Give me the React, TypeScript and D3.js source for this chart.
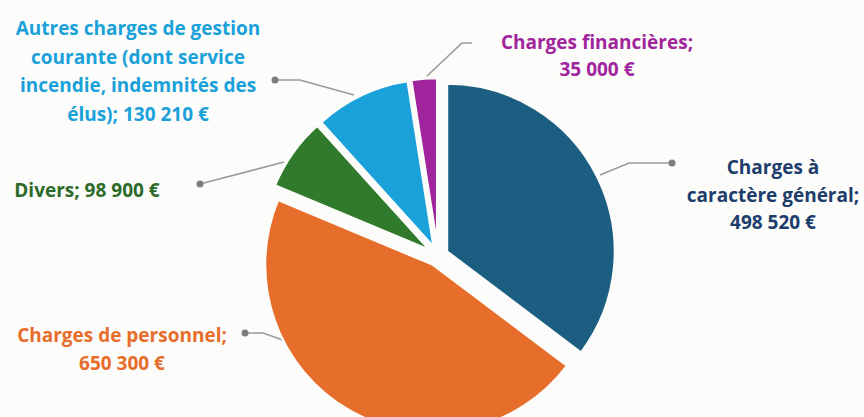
import React from "react";
import * as d3 from "d3";

const categories = [
  "Charges à caractère général",
  "Charges de personnel",
  "Divers",
  "Autres charges de gestion courante",
  "Charges financières",
];
const values = [498520, 650300, 98900, 130210, 35000];
const sliceColors = ["#1b5e81", "#e76d2b", "#2f7a2b", "#1aa1da", "#a0259c"];
const textColors = ["#1d3d6c", "#e76d2b", "#2d6a29", "#1aa1da", "#a0259c"];
const labelLines = [
  ["Charges à", "caractère général;", "498 520 €"],
  ["Charges de personnel;", "650 300 €"],
  ["Divers; 98 900 €"],
  ["Autres charges de gestion", "courante (dont service", "incendie, indemnités des", "élus); 130 210 €"],
  ["Charges financières;", "35 000 €"],
];

const W = 864;
const H = 417;
const cx = 438;
const cy = 256;
const R = 168;
const explode = 10;

// label layout (anchor x, first line y, line height)
const labelPos = [
  { x: 773, y: 174, lh: 27.5 },
  { x: 122, y: 342, lh: 28 },
  { x: 87, y: 197, lh: 28 },
  { x: 138, y: 35, lh: 28.5 },
  { x: 597, y: 49, lh: 26.5 },
];
// leader lines: points list, and whether a dot is drawn at first point
const leaders = [
  { pts: [[672, 163], [629, 163], [600, 175]], dot: true },
  { pts: [[245, 333], [263, 333], [291, 343]], dot: true },
  { pts: [[200, 184], [284, 162]], dot: true },
  { pts: [[275, 80], [300, 80], [354, 95]], dot: true },
  { pts: [[472, 43], [462, 43], [427, 76]], dot: false },
];

export default function App() {
  const pie = d3
    .pie<number>()
    .sort(null)
    .startAngle(0)
    .endAngle(2 * Math.PI)
    .value((d) => d);
  const arcs = pie(values);
  const arcGen = d3.arc<d3.PieArcDatum<number>>().innerRadius(0).outerRadius(R);
  const lineGen = d3.line();

  return (
    <svg
      width={W}
      height={H}
      style={{ position: "fixed", left: 0, top: 0, background: "#fcfcfa" }}
    >
      <rect x={0} y={0} width={W} height={H} fill="#fcfcfa" />
      <path d={lineGen([[340, 406], [352, 401]] as any) || ""} stroke="#a0a0a0" strokeWidth={1.5} fill="none" />
      {leaders.map((l, i) => (
        <g key={"l" + i}>
          <path
            d={lineGen(l.pts as any) || ""}
            stroke="#9a9a9a"
            strokeWidth={1.6}
            fill="none"
          />
          {l.dot && <circle cx={l.pts[0][0]} cy={l.pts[0][1]} r={3.5} fill="#7d7d7d" />}
        </g>
      ))}
      {arcs.map((a, i) => {
        const mid = (a.startAngle + a.endAngle) / 2;
        const dx = Math.sin(mid) * explode;
        const dy = -Math.cos(mid) * explode;
        return (
          <path
            key={i}
            d={arcGen(a) || ""}
            transform={`translate(${cx + dx},${cy + dy})`}
            fill={sliceColors[i]}
            stroke="#fcfcfa"
            strokeWidth={2.5}
            strokeLinejoin="round"
          />
        );
      })}
      {labelLines.map((lines, i) => (
        <text
          key={"t" + i}
          x={labelPos[i].x}
          y={labelPos[i].y}
          textAnchor="middle"
          fill={textColors[i]}
          fontFamily="'Open Sans', Lato, sans-serif"
          fontWeight={700}
          fontSize={19}
        >
          {lines.map((t, j) => (
            <tspan key={j} x={labelPos[i].x} y={labelPos[i].y + j * labelPos[i].lh}>
              {t}
            </tspan>
          ))}
        </text>
      ))}
    </svg>
  );
}
